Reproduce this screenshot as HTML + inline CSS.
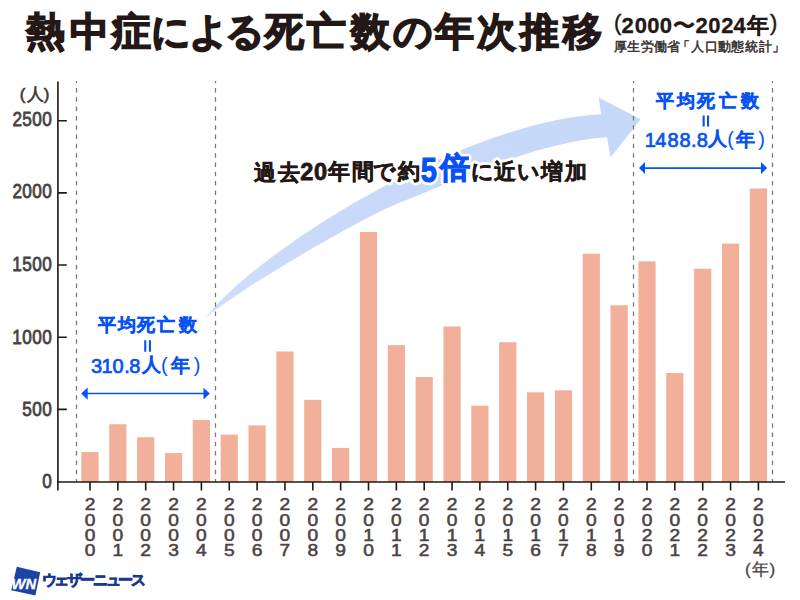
<!DOCTYPE html>
<html><head><meta charset="utf-8">
<style>
html,body{margin:0;padding:0;background:#fff;}
#c{position:relative;width:800px;height:600px;overflow:hidden;background:#fff;}
svg{position:absolute;left:0;top:0;}
text{font-family:"Liberation Sans",sans-serif;}
</style></head><body>
<div id="c">
<svg width="800" height="600" viewBox="0 0 800 600">
<defs><linearGradient id="ag" gradientUnits="userSpaceOnUse" x1="206" y1="317" x2="640" y2="119"><stop offset="0" stop-color="#d0defb"/><stop offset="0.3" stop-color="#c8d9f9"/><stop offset="1" stop-color="#c6d8f8"/></linearGradient></defs>
<path d="M205.5,318 C259.44,248.2 466.4,120.7 601,114.2 L598.75,97.5 L640.5,119.2 L610.6,157.5 L607,137.3 C534.55,141.34 440.39,187.82 400,202.47 C370.21,213.27 243.83,285.6 205.5,318 Z" fill="url(#ag)"/>
<g fill="#f2b09a">
<rect x="81.40" y="452.11" width="17.2" height="29.89"/>
<rect x="109.25" y="424.24" width="17.2" height="57.76"/>
<rect x="137.10" y="437.24" width="17.2" height="44.76"/>
<rect x="164.95" y="453.12" width="17.2" height="28.88"/>
<rect x="192.80" y="419.91" width="17.2" height="62.09"/>
<rect x="220.65" y="434.64" width="17.2" height="47.36"/>
<rect x="248.50" y="425.40" width="17.2" height="56.60"/>
<rect x="276.35" y="351.46" width="17.2" height="130.54"/>
<rect x="304.20" y="399.84" width="17.2" height="82.16"/>
<rect x="332.05" y="447.92" width="17.2" height="34.08"/>
<rect x="359.90" y="232.04" width="17.2" height="249.96"/>
<rect x="387.75" y="345.11" width="17.2" height="136.89"/>
<rect x="415.60" y="377.02" width="17.2" height="104.98"/>
<rect x="443.45" y="326.48" width="17.2" height="155.52"/>
<rect x="471.30" y="405.61" width="17.2" height="76.39"/>
<rect x="499.15" y="342.22" width="17.2" height="139.78"/>
<rect x="527.00" y="392.33" width="17.2" height="89.67"/>
<rect x="554.85" y="390.31" width="17.2" height="91.69"/>
<rect x="582.70" y="253.70" width="17.2" height="228.30"/>
<rect x="610.55" y="305.25" width="17.2" height="176.75"/>
<rect x="638.40" y="261.36" width="17.2" height="220.64"/>
<rect x="666.25" y="372.98" width="17.2" height="109.02"/>
<rect x="694.10" y="268.72" width="17.2" height="213.28"/>
<rect x="721.95" y="243.60" width="17.2" height="238.40"/>
<rect x="749.80" y="188.43" width="17.2" height="293.57"/>
</g>
<g stroke="#777" stroke-width="1.25" stroke-dasharray="4.5 4.81" stroke-dashoffset="2.31" fill="none">
<path d="M76.5 81V482 M215.5 81V482 M633.5 81V482 M772.5 81V482"/>
</g>
<g stroke="#231815" stroke-width="1.6" fill="none">
<path d="M57.9 81.5V490.5 M57 482H785"/>
<path d="M58 120.7H66.8 M58 192.9H66.8 M58 265.05H66.8 M58 337.2H66.8 M58 409.4H66.8"/>
<path d="M90.00 482V490.5 M117.85 482V490.5 M145.70 482V490.5 M173.55 482V490.5 M201.40 482V490.5 M229.25 482V490.5 M257.10 482V490.5 M284.95 482V490.5 M312.80 482V490.5 M340.65 482V490.5 M368.50 482V490.5 M396.35 482V490.5 M424.20 482V490.5 M452.05 482V490.5 M479.90 482V490.5 M507.75 482V490.5 M535.60 482V490.5 M563.45 482V490.5 M591.30 482V490.5 M619.15 482V490.5 M647.00 482V490.5 M674.85 482V490.5 M702.70 482V490.5 M730.55 482V490.5 M758.40 482V490.5"/>
</g>
<g fill="#0752f4">
<path d="M86 392.65H205V394.35H86Z M643 167.25H763V168.95H643Z"/>
<path d="M144.2 340.3h2.1v11.5h-2.1Z M148.9 340.3h2.1v11.5h-2.1Z M702.6 115.6h2.1v10.9h-2.1Z M707.0 115.6h2.1v10.9h-2.1Z"/>
<path d="M81.2 393.5L87.7 387.6V399.7Z M209.8 393.5L203.5 387.7V399.6Z M639 168.1L645 162.1V174Z M767.1 168.1L761 162V174.1Z"/>
</g>
<text x="26.02" y="44.75" font-size="38.5" font-weight="700" fill="#231815" stroke="#231815" stroke-width="1.5">熱</text><text x="70.15" y="44.75" font-size="38.5" font-weight="700" fill="#231815" stroke="#231815" stroke-width="1.5">中</text><text x="112.38" y="44.75" font-size="38.5" font-weight="700" fill="#231815" stroke="#231815" stroke-width="1.5">症</text><text x="150.62" y="44.75" font-size="38.5" font-weight="700" fill="#231815" stroke="#231815" stroke-width="1.5">に</text><text x="189.00" y="44.75" font-size="38.5" font-weight="700" fill="#231815" stroke="#231815" stroke-width="1.5">よ</text><text x="224.88" y="44.75" font-size="38.5" font-weight="700" fill="#231815" stroke="#231815" stroke-width="1.5">る</text><text x="264.50" y="44.75" font-size="38.5" font-weight="700" fill="#231815" stroke="#231815" stroke-width="1.5">死</text><text x="307.25" y="44.75" font-size="38.5" font-weight="700" fill="#231815" stroke="#231815" stroke-width="1.5">亡</text><text x="350.62" y="44.75" font-size="38.5" font-weight="700" fill="#231815" stroke="#231815" stroke-width="1.5">数</text><text x="392.88" y="44.75" font-size="38.5" font-weight="700" fill="#231815" stroke="#231815" stroke-width="1.5">の</text><text x="435.38" y="44.75" font-size="38.5" font-weight="700" fill="#231815" stroke="#231815" stroke-width="1.5">年</text><text x="476.75" y="44.75" font-size="38.5" font-weight="700" fill="#231815" stroke="#231815" stroke-width="1.5">次</text><text x="520.08" y="44.75" font-size="38.5" font-weight="700" fill="#231815" stroke="#231815" stroke-width="1.5">推</text><text x="562.62" y="44.75" font-size="38.5" font-weight="700" fill="#231815" stroke="#231815" stroke-width="1.5">移</text>
<text x="613.88" y="30.25" font-size="22" font-weight="400" fill="#231815" stroke="#231815" stroke-width="0.4">(</text><text x="621.50" y="32.75" font-size="22" font-weight="700" fill="#231815" stroke="#231815" stroke-width="0.3">2</text><text x="634.80" y="32.75" font-size="22" font-weight="700" fill="#231815" stroke="#231815" stroke-width="0.3">0</text><text x="647.25" y="32.75" font-size="22" font-weight="700" fill="#231815" stroke="#231815" stroke-width="0.3">0</text><text x="659.80" y="32.75" font-size="22" font-weight="700" fill="#231815" stroke="#231815" stroke-width="0.3">0</text><text x="673.40" y="32.75" font-size="22" font-weight="400" fill="#231815" stroke="#231815" stroke-width="1.0">〜</text><text x="695.58" y="32.75" font-size="22" font-weight="700" fill="#231815" stroke="#231815" stroke-width="0.3">2</text><text x="708.25" y="32.75" font-size="22" font-weight="700" fill="#231815" stroke="#231815" stroke-width="0.3">0</text><text x="721.20" y="32.75" font-size="22" font-weight="700" fill="#231815" stroke="#231815" stroke-width="0.3">2</text><text x="733.42" y="32.75" font-size="22" font-weight="700" fill="#231815" stroke="#231815" stroke-width="0.3">4</text><text x="747.30" y="32.75" font-size="22" font-weight="700" fill="#231815" stroke="#231815" stroke-width="0.3">年</text><text x="770.00" y="30.25" font-size="22" font-weight="400" fill="#231815" stroke="#231815" stroke-width="0.4">)</text>
<text x="613.60" y="50.50" font-size="13" font-weight="400" fill="#352f2f" stroke="#352f2f" stroke-width="0.5">厚</text><text x="627.35" y="50.50" font-size="13" font-weight="400" fill="#352f2f" stroke="#352f2f" stroke-width="0.5">生</text><text x="640.73" y="50.50" font-size="13" font-weight="400" fill="#352f2f" stroke="#352f2f" stroke-width="0.5">労</text><text x="654.30" y="50.50" font-size="13" font-weight="400" fill="#352f2f" stroke="#352f2f" stroke-width="0.5">働</text><text x="667.17" y="50.50" font-size="13" font-weight="400" fill="#352f2f" stroke="#352f2f" stroke-width="0.5">省</text><text x="676.70" y="50.50" font-size="13" font-weight="400" fill="#352f2f" stroke="#352f2f" stroke-width="0.5">「</text><text x="690.92" y="50.50" font-size="13" font-weight="400" fill="#352f2f" stroke="#352f2f" stroke-width="0.5">人</text><text x="705.00" y="50.50" font-size="13" font-weight="400" fill="#352f2f" stroke="#352f2f" stroke-width="0.5">口</text><text x="718.12" y="50.50" font-size="13" font-weight="400" fill="#352f2f" stroke="#352f2f" stroke-width="0.5">動</text><text x="731.20" y="50.50" font-size="13" font-weight="400" fill="#352f2f" stroke="#352f2f" stroke-width="0.5">態</text><text x="745.00" y="50.50" font-size="13" font-weight="400" fill="#352f2f" stroke="#352f2f" stroke-width="0.5">統</text><text x="758.92" y="50.50" font-size="13" font-weight="400" fill="#352f2f" stroke="#352f2f" stroke-width="0.5">計</text><text x="772.45" y="50.50" font-size="13" font-weight="400" fill="#352f2f" stroke="#352f2f" stroke-width="0.5">」</text>
<text x="19.70" y="99.50" font-size="17" font-weight="400" fill="#3e3838" stroke="#3e3838" stroke-width="0.6">(</text><text x="26.60" y="99.50" font-size="17" font-weight="400" fill="#3e3838" stroke="#3e3838" stroke-width="0.6">人</text><text x="43.70" y="99.50" font-size="17" font-weight="400" fill="#3e3838" stroke="#3e3838" stroke-width="0.6">)</text>
<text transform="matrix(0.88 0 0 1 2.064 0)" x="11.82" y="125.55" font-size="19.5" font-weight="400" fill="#484242" stroke="#484242" stroke-width="0.8">2</text><text transform="matrix(0.88 0 0 1 3.252 0)" x="21.60" y="125.55" font-size="19.5" font-weight="400" fill="#484242" stroke="#484242" stroke-width="0.8">5</text><text transform="matrix(0.88 0 0 1 4.428 0)" x="31.52" y="125.55" font-size="19.5" font-weight="400" fill="#484242" stroke="#484242" stroke-width="0.8">0</text><text transform="matrix(0.88 0 0 1 5.652 0)" x="41.73" y="125.55" font-size="19.5" font-weight="400" fill="#484242" stroke="#484242" stroke-width="0.8">0</text><text transform="matrix(0.88 0 0 1 2.064 0)" x="11.82" y="198.15" font-size="19.5" font-weight="400" fill="#484242" stroke="#484242" stroke-width="0.8">2</text><text transform="matrix(0.88 0 0 1 3.252 0)" x="21.73" y="198.15" font-size="19.5" font-weight="400" fill="#484242" stroke="#484242" stroke-width="0.8">0</text><text transform="matrix(0.88 0 0 1 4.428 0)" x="31.52" y="198.15" font-size="19.5" font-weight="400" fill="#484242" stroke="#484242" stroke-width="0.8">0</text><text transform="matrix(0.88 0 0 1 5.652 0)" x="41.73" y="198.15" font-size="19.5" font-weight="400" fill="#484242" stroke="#484242" stroke-width="0.8">0</text><text transform="matrix(0.88 0 0 1 2.064 0)" x="11.57" y="270.75" font-size="19.5" font-weight="400" fill="#484242" stroke="#484242" stroke-width="0.8">1</text><text transform="matrix(0.88 0 0 1 3.252 0)" x="21.60" y="270.75" font-size="19.5" font-weight="400" fill="#484242" stroke="#484242" stroke-width="0.8">5</text><text transform="matrix(0.88 0 0 1 4.428 0)" x="31.52" y="270.75" font-size="19.5" font-weight="400" fill="#484242" stroke="#484242" stroke-width="0.8">0</text><text transform="matrix(0.88 0 0 1 5.652 0)" x="41.73" y="270.75" font-size="19.5" font-weight="400" fill="#484242" stroke="#484242" stroke-width="0.8">0</text><text transform="matrix(0.88 0 0 1 2.064 0)" x="11.57" y="343.95" font-size="19.5" font-weight="400" fill="#484242" stroke="#484242" stroke-width="0.8">1</text><text transform="matrix(0.88 0 0 1 3.252 0)" x="21.73" y="343.95" font-size="19.5" font-weight="400" fill="#484242" stroke="#484242" stroke-width="0.8">0</text><text transform="matrix(0.88 0 0 1 4.428 0)" x="31.52" y="343.95" font-size="19.5" font-weight="400" fill="#484242" stroke="#484242" stroke-width="0.8">0</text><text transform="matrix(0.88 0 0 1 5.652 0)" x="41.73" y="343.95" font-size="19.5" font-weight="400" fill="#484242" stroke="#484242" stroke-width="0.8">0</text><text transform="matrix(0.88 0 0 1 3.252 0)" x="21.60" y="415.90" font-size="19.5" font-weight="400" fill="#484242" stroke="#484242" stroke-width="0.8">5</text><text transform="matrix(0.88 0 0 1 4.428 0)" x="31.52" y="415.90" font-size="19.5" font-weight="400" fill="#484242" stroke="#484242" stroke-width="0.8">0</text><text transform="matrix(0.88 0 0 1 5.652 0)" x="41.73" y="415.90" font-size="19.5" font-weight="400" fill="#484242" stroke="#484242" stroke-width="0.8">0</text><text transform="matrix(0.88 0 0 1 5.652 0)" x="41.73" y="488.50" font-size="19.5" font-weight="400" fill="#484242" stroke="#484242" stroke-width="0.8">0</text>
<g font-size="16" fill="#4a4343" stroke="#4a4343" stroke-width="0.5">
<text transform="translate(90.00 509.50) scale(1.2 1)" text-anchor="middle">2</text>
<text transform="translate(90.00 525.70) scale(1.2 1)" text-anchor="middle">0</text>
<text transform="translate(90.00 541.00) scale(1.2 1)" text-anchor="middle">0</text>
<text transform="translate(90.00 555.90) scale(1.2 1)" text-anchor="middle">0</text>
<text transform="translate(117.85 509.50) scale(1.2 1)" text-anchor="middle">2</text>
<text transform="translate(117.85 525.70) scale(1.2 1)" text-anchor="middle">0</text>
<text transform="translate(117.85 541.00) scale(1.2 1)" text-anchor="middle">0</text>
<text transform="translate(117.85 555.90) scale(1.2 1)" text-anchor="middle">1</text>
<text transform="translate(145.70 509.50) scale(1.2 1)" text-anchor="middle">2</text>
<text transform="translate(145.70 525.70) scale(1.2 1)" text-anchor="middle">0</text>
<text transform="translate(145.70 541.00) scale(1.2 1)" text-anchor="middle">0</text>
<text transform="translate(145.70 555.90) scale(1.2 1)" text-anchor="middle">2</text>
<text transform="translate(173.55 509.50) scale(1.2 1)" text-anchor="middle">2</text>
<text transform="translate(173.55 525.70) scale(1.2 1)" text-anchor="middle">0</text>
<text transform="translate(173.55 541.00) scale(1.2 1)" text-anchor="middle">0</text>
<text transform="translate(173.55 555.90) scale(1.2 1)" text-anchor="middle">3</text>
<text transform="translate(201.40 509.50) scale(1.2 1)" text-anchor="middle">2</text>
<text transform="translate(201.40 525.70) scale(1.2 1)" text-anchor="middle">0</text>
<text transform="translate(201.40 541.00) scale(1.2 1)" text-anchor="middle">0</text>
<text transform="translate(201.40 555.90) scale(1.2 1)" text-anchor="middle">4</text>
<text transform="translate(229.25 509.50) scale(1.2 1)" text-anchor="middle">2</text>
<text transform="translate(229.25 525.70) scale(1.2 1)" text-anchor="middle">0</text>
<text transform="translate(229.25 541.00) scale(1.2 1)" text-anchor="middle">0</text>
<text transform="translate(229.25 555.90) scale(1.2 1)" text-anchor="middle">5</text>
<text transform="translate(257.10 509.50) scale(1.2 1)" text-anchor="middle">2</text>
<text transform="translate(257.10 525.70) scale(1.2 1)" text-anchor="middle">0</text>
<text transform="translate(257.10 541.00) scale(1.2 1)" text-anchor="middle">0</text>
<text transform="translate(257.10 555.90) scale(1.2 1)" text-anchor="middle">6</text>
<text transform="translate(284.95 509.50) scale(1.2 1)" text-anchor="middle">2</text>
<text transform="translate(284.95 525.70) scale(1.2 1)" text-anchor="middle">0</text>
<text transform="translate(284.95 541.00) scale(1.2 1)" text-anchor="middle">0</text>
<text transform="translate(284.95 555.90) scale(1.2 1)" text-anchor="middle">7</text>
<text transform="translate(312.80 509.50) scale(1.2 1)" text-anchor="middle">2</text>
<text transform="translate(312.80 525.70) scale(1.2 1)" text-anchor="middle">0</text>
<text transform="translate(312.80 541.00) scale(1.2 1)" text-anchor="middle">0</text>
<text transform="translate(312.80 555.90) scale(1.2 1)" text-anchor="middle">8</text>
<text transform="translate(340.65 509.50) scale(1.2 1)" text-anchor="middle">2</text>
<text transform="translate(340.65 525.70) scale(1.2 1)" text-anchor="middle">0</text>
<text transform="translate(340.65 541.00) scale(1.2 1)" text-anchor="middle">0</text>
<text transform="translate(340.65 555.90) scale(1.2 1)" text-anchor="middle">9</text>
<text transform="translate(368.50 509.50) scale(1.2 1)" text-anchor="middle">2</text>
<text transform="translate(368.50 525.70) scale(1.2 1)" text-anchor="middle">0</text>
<text transform="translate(368.50 541.00) scale(1.2 1)" text-anchor="middle">1</text>
<text transform="translate(368.50 555.90) scale(1.2 1)" text-anchor="middle">0</text>
<text transform="translate(396.35 509.50) scale(1.2 1)" text-anchor="middle">2</text>
<text transform="translate(396.35 525.70) scale(1.2 1)" text-anchor="middle">0</text>
<text transform="translate(396.35 541.00) scale(1.2 1)" text-anchor="middle">1</text>
<text transform="translate(396.35 555.90) scale(1.2 1)" text-anchor="middle">1</text>
<text transform="translate(424.20 509.50) scale(1.2 1)" text-anchor="middle">2</text>
<text transform="translate(424.20 525.70) scale(1.2 1)" text-anchor="middle">0</text>
<text transform="translate(424.20 541.00) scale(1.2 1)" text-anchor="middle">1</text>
<text transform="translate(424.20 555.90) scale(1.2 1)" text-anchor="middle">2</text>
<text transform="translate(452.05 509.50) scale(1.2 1)" text-anchor="middle">2</text>
<text transform="translate(452.05 525.70) scale(1.2 1)" text-anchor="middle">0</text>
<text transform="translate(452.05 541.00) scale(1.2 1)" text-anchor="middle">1</text>
<text transform="translate(452.05 555.90) scale(1.2 1)" text-anchor="middle">3</text>
<text transform="translate(479.90 509.50) scale(1.2 1)" text-anchor="middle">2</text>
<text transform="translate(479.90 525.70) scale(1.2 1)" text-anchor="middle">0</text>
<text transform="translate(479.90 541.00) scale(1.2 1)" text-anchor="middle">1</text>
<text transform="translate(479.90 555.90) scale(1.2 1)" text-anchor="middle">4</text>
<text transform="translate(507.75 509.50) scale(1.2 1)" text-anchor="middle">2</text>
<text transform="translate(507.75 525.70) scale(1.2 1)" text-anchor="middle">0</text>
<text transform="translate(507.75 541.00) scale(1.2 1)" text-anchor="middle">1</text>
<text transform="translate(507.75 555.90) scale(1.2 1)" text-anchor="middle">5</text>
<text transform="translate(535.60 509.50) scale(1.2 1)" text-anchor="middle">2</text>
<text transform="translate(535.60 525.70) scale(1.2 1)" text-anchor="middle">0</text>
<text transform="translate(535.60 541.00) scale(1.2 1)" text-anchor="middle">1</text>
<text transform="translate(535.60 555.90) scale(1.2 1)" text-anchor="middle">6</text>
<text transform="translate(563.45 509.50) scale(1.2 1)" text-anchor="middle">2</text>
<text transform="translate(563.45 525.70) scale(1.2 1)" text-anchor="middle">0</text>
<text transform="translate(563.45 541.00) scale(1.2 1)" text-anchor="middle">1</text>
<text transform="translate(563.45 555.90) scale(1.2 1)" text-anchor="middle">7</text>
<text transform="translate(591.30 509.50) scale(1.2 1)" text-anchor="middle">2</text>
<text transform="translate(591.30 525.70) scale(1.2 1)" text-anchor="middle">0</text>
<text transform="translate(591.30 541.00) scale(1.2 1)" text-anchor="middle">1</text>
<text transform="translate(591.30 555.90) scale(1.2 1)" text-anchor="middle">8</text>
<text transform="translate(619.15 509.50) scale(1.2 1)" text-anchor="middle">2</text>
<text transform="translate(619.15 525.70) scale(1.2 1)" text-anchor="middle">0</text>
<text transform="translate(619.15 541.00) scale(1.2 1)" text-anchor="middle">1</text>
<text transform="translate(619.15 555.90) scale(1.2 1)" text-anchor="middle">9</text>
<text transform="translate(647.00 509.50) scale(1.2 1)" text-anchor="middle">2</text>
<text transform="translate(647.00 525.70) scale(1.2 1)" text-anchor="middle">0</text>
<text transform="translate(647.00 541.00) scale(1.2 1)" text-anchor="middle">2</text>
<text transform="translate(647.00 555.90) scale(1.2 1)" text-anchor="middle">0</text>
<text transform="translate(674.85 509.50) scale(1.2 1)" text-anchor="middle">2</text>
<text transform="translate(674.85 525.70) scale(1.2 1)" text-anchor="middle">0</text>
<text transform="translate(674.85 541.00) scale(1.2 1)" text-anchor="middle">2</text>
<text transform="translate(674.85 555.90) scale(1.2 1)" text-anchor="middle">1</text>
<text transform="translate(702.70 509.50) scale(1.2 1)" text-anchor="middle">2</text>
<text transform="translate(702.70 525.70) scale(1.2 1)" text-anchor="middle">0</text>
<text transform="translate(702.70 541.00) scale(1.2 1)" text-anchor="middle">2</text>
<text transform="translate(702.70 555.90) scale(1.2 1)" text-anchor="middle">2</text>
<text transform="translate(730.55 509.50) scale(1.2 1)" text-anchor="middle">2</text>
<text transform="translate(730.55 525.70) scale(1.2 1)" text-anchor="middle">0</text>
<text transform="translate(730.55 541.00) scale(1.2 1)" text-anchor="middle">2</text>
<text transform="translate(730.55 555.90) scale(1.2 1)" text-anchor="middle">3</text>
<text transform="translate(758.40 509.50) scale(1.2 1)" text-anchor="middle">2</text>
<text transform="translate(758.40 525.70) scale(1.2 1)" text-anchor="middle">0</text>
<text transform="translate(758.40 541.00) scale(1.2 1)" text-anchor="middle">2</text>
<text transform="translate(758.40 555.90) scale(1.2 1)" text-anchor="middle">4</text>
</g>
<text x="745.02" y="574.95" font-size="17" font-weight="400" fill="#4a4343" stroke="#4a4343" stroke-width="0.3">(</text><text x="751.60" y="574.95" font-size="17" font-weight="400" fill="#4a4343" stroke="#4a4343" stroke-width="0.3">年</text><text x="769.52" y="574.95" font-size="17" font-weight="400" fill="#4a4343" stroke="#4a4343" stroke-width="0.3">)</text>
<text x="97.60" y="331.25" font-size="18" font-weight="700" fill="#0752f4" stroke="#0752f4" stroke-width="0.45">平</text><text x="118.07" y="331.25" font-size="18" font-weight="700" fill="#0752f4" stroke="#0752f4" stroke-width="0.45">均</text><text x="136.82" y="331.25" font-size="18" font-weight="700" fill="#0752f4" stroke="#0752f4" stroke-width="0.45">死</text><text x="157.25" y="331.25" font-size="18" font-weight="700" fill="#0752f4" stroke="#0752f4" stroke-width="0.45">亡</text><text x="178.55" y="331.25" font-size="18" font-weight="700" fill="#0752f4" stroke="#0752f4" stroke-width="0.45">数</text><text x="91.10" y="372.50" font-size="20" font-weight="400" fill="#0752f4" stroke="#0752f4" stroke-width="0.7">3</text><text x="101.62" y="372.50" font-size="20" font-weight="400" fill="#0752f4" stroke="#0752f4" stroke-width="0.7">1</text><text x="112.38" y="372.50" font-size="20" font-weight="400" fill="#0752f4" stroke="#0752f4" stroke-width="0.7">0</text><text x="124.25" y="372.50" font-size="20" font-weight="400" fill="#0752f4" stroke="#0752f4" stroke-width="0.7">.</text><text x="129.35" y="372.50" font-size="20" font-weight="400" fill="#0752f4" stroke="#0752f4" stroke-width="0.7">8</text><text x="141.62" y="370.50" font-size="19" font-weight="700" fill="#0752f4" stroke="#0752f4" stroke-width="0.2">人</text><text x="160.97" y="371.50" font-size="20" font-weight="400" fill="#0752f4">(</text><text x="171.38" y="371.75" font-size="19" font-weight="700" fill="#0752f4" stroke="#0752f4" stroke-width="0.2">年</text><text x="193.82" y="371.50" font-size="20" font-weight="400" fill="#0752f4">)</text>
<text x="655.60" y="106.65" font-size="18" font-weight="700" fill="#0752f4" stroke="#0752f4" stroke-width="0.45">平</text><text x="676.62" y="106.65" font-size="18" font-weight="700" fill="#0752f4" stroke="#0752f4" stroke-width="0.45">均</text><text x="696.98" y="106.65" font-size="18" font-weight="700" fill="#0752f4" stroke="#0752f4" stroke-width="0.45">死</text><text x="719.10" y="106.65" font-size="18" font-weight="700" fill="#0752f4" stroke="#0752f4" stroke-width="0.45">亡</text><text x="741.40" y="106.65" font-size="18" font-weight="700" fill="#0752f4" stroke="#0752f4" stroke-width="0.45">数</text><text x="644.67" y="147.35" font-size="20" font-weight="400" fill="#0752f4" stroke="#0752f4" stroke-width="0.7">1</text><text x="655.20" y="147.35" font-size="20" font-weight="400" fill="#0752f4" stroke="#0752f4" stroke-width="0.7">4</text><text x="667.40" y="147.35" font-size="20" font-weight="400" fill="#0752f4" stroke="#0752f4" stroke-width="0.7">8</text><text x="679.60" y="147.35" font-size="20" font-weight="400" fill="#0752f4" stroke="#0752f4" stroke-width="0.7">8</text><text x="690.90" y="147.35" font-size="20" font-weight="400" fill="#0752f4" stroke="#0752f4" stroke-width="0.7">.</text><text x="696.70" y="147.35" font-size="20" font-weight="400" fill="#0752f4" stroke="#0752f4" stroke-width="0.7">8</text><text x="707.88" y="145.10" font-size="19" font-weight="700" fill="#0752f4" stroke="#0752f4" stroke-width="0.2">人</text><text x="727.17" y="146.00" font-size="20" font-weight="400" fill="#0752f4">(</text><text x="736.17" y="146.45" font-size="19" font-weight="700" fill="#0752f4" stroke="#0752f4" stroke-width="0.2">年</text><text x="758.28" y="146.00" font-size="20" font-weight="400" fill="#0752f4">)</text>
<g stroke-linejoin="round"><text x="254.27" y="179.90" font-size="22" font-weight="700" fill="#fff" stroke="#fff" stroke-width="6.5">過</text><text x="277.60" y="179.90" font-size="22" font-weight="700" fill="#fff" stroke="#fff" stroke-width="6.5">去</text><text x="300.25" y="179.55" font-size="23.5" font-weight="700" fill="#fff" stroke="#fff" stroke-width="6.5">2</text><text x="314.05" y="179.55" font-size="23.5" font-weight="700" fill="#fff" stroke="#fff" stroke-width="6.5">0</text><text x="328.48" y="179.15" font-size="22" font-weight="700" fill="#fff" stroke="#fff" stroke-width="6.5">年</text><text x="352.00" y="179.15" font-size="22" font-weight="700" fill="#fff" stroke="#fff" stroke-width="6.5">間</text><text x="372.60" y="179.15" font-size="22" font-weight="700" fill="#fff" stroke="#fff" stroke-width="6.5">で</text><text x="397.75" y="179.15" font-size="22" font-weight="700" fill="#fff" stroke="#fff" stroke-width="6.5">約</text><text transform="translate(428.85 181.6) scale(0.82 1)" text-anchor="middle" font-size="35.5" font-weight="700" fill="#fff" stroke="#fff" stroke-width="6.5">5</text><text x="439.50" y="178.20" font-size="30" font-weight="700" fill="#fff" stroke="#fff" stroke-width="6.5">倍</text><text x="471.00" y="178.70" font-size="22" font-weight="700" fill="#fff" stroke="#fff" stroke-width="6.5">に</text><text x="494.38" y="178.70" font-size="22" font-weight="700" fill="#fff" stroke="#fff" stroke-width="6.5">近</text><text x="517.47" y="178.70" font-size="22" font-weight="700" fill="#fff" stroke="#fff" stroke-width="6.5">い</text><text x="541.23" y="178.70" font-size="22" font-weight="700" fill="#fff" stroke="#fff" stroke-width="6.5">増</text><text x="565.27" y="178.70" font-size="22" font-weight="700" fill="#fff" stroke="#fff" stroke-width="6.5">加</text></g>
<text x="254.27" y="179.90" font-size="22" font-weight="700" fill="#231815" stroke="#231815" stroke-width="0.5">過</text><text x="277.60" y="179.90" font-size="22" font-weight="700" fill="#231815" stroke="#231815" stroke-width="0.5">去</text><text x="300.25" y="179.55" font-size="23.5" font-weight="700" fill="#231815" stroke="#231815" stroke-width="0.8">2</text><text x="314.05" y="179.55" font-size="23.5" font-weight="700" fill="#231815" stroke="#231815" stroke-width="0.8">0</text><text x="328.48" y="179.15" font-size="22" font-weight="700" fill="#231815" stroke="#231815" stroke-width="0.5">年</text><text x="352.00" y="179.15" font-size="22" font-weight="700" fill="#231815" stroke="#231815" stroke-width="0.5">間</text><text x="372.60" y="179.15" font-size="22" font-weight="700" fill="#231815" stroke="#231815" stroke-width="0.5">で</text><text x="397.75" y="179.15" font-size="22" font-weight="700" fill="#231815" stroke="#231815" stroke-width="0.5">約</text><text transform="translate(428.85 181.6) scale(0.82 1)" text-anchor="middle" font-size="35.5" font-weight="700" fill="#0752f4" stroke="#0752f4" stroke-width="1.0">5</text><text x="439.50" y="178.20" font-size="30" font-weight="700" fill="#0752f4" stroke="#0752f4" stroke-width="1.1">倍</text><text x="471.00" y="178.70" font-size="22" font-weight="700" fill="#231815" stroke="#231815" stroke-width="0.5">に</text><text x="494.38" y="178.70" font-size="22" font-weight="700" fill="#231815" stroke="#231815" stroke-width="0.5">近</text><text x="517.47" y="178.70" font-size="22" font-weight="700" fill="#231815" stroke="#231815" stroke-width="0.5">い</text><text x="541.23" y="178.70" font-size="22" font-weight="700" fill="#231815" stroke="#231815" stroke-width="0.5">増</text><text x="565.27" y="178.70" font-size="22" font-weight="700" fill="#231815" stroke="#231815" stroke-width="0.5">加</text>
<path d="M16.8 566.8L40.2 572.3L35.4 595.4L11.2 590.2Z" fill="#1b44a6"/>
<text x="11.6" y="588.6" font-size="15" font-weight="700" font-style="italic" fill="#fff" stroke="#fff" stroke-width="0.3" textLength="24.6" lengthAdjust="spacingAndGlyphs">WN</text>
<text x="42.35" y="585.20" font-size="14.5" font-weight="700" fill="#1a3a92" stroke="#1a3a92" stroke-width="0.8">ウ</text><text x="53.67" y="585.20" font-size="14.5" font-weight="700" fill="#1a3a92" stroke="#1a3a92" stroke-width="0.8">ェ</text><text x="66.60" y="585.20" font-size="14.5" font-weight="700" fill="#1a3a92" stroke="#1a3a92" stroke-width="0.8">ザ</text><text x="79.90" y="585.20" font-size="14.5" font-weight="700" fill="#1a3a92" stroke="#1a3a92" stroke-width="0.8">ー</text><text x="92.78" y="585.20" font-size="14.5" font-weight="700" fill="#1a3a92" stroke="#1a3a92" stroke-width="0.8">ニ</text><text x="105.88" y="585.20" font-size="14.5" font-weight="700" fill="#1a3a92" stroke="#1a3a92" stroke-width="0.8">ュ</text><text x="117.75" y="585.20" font-size="14.5" font-weight="700" fill="#1a3a92" stroke="#1a3a92" stroke-width="0.8">ー</text><text x="130.82" y="585.20" font-size="14.5" font-weight="700" fill="#1a3a92" stroke="#1a3a92" stroke-width="0.8">ス</text>
</svg>
</div>
</body></html>
